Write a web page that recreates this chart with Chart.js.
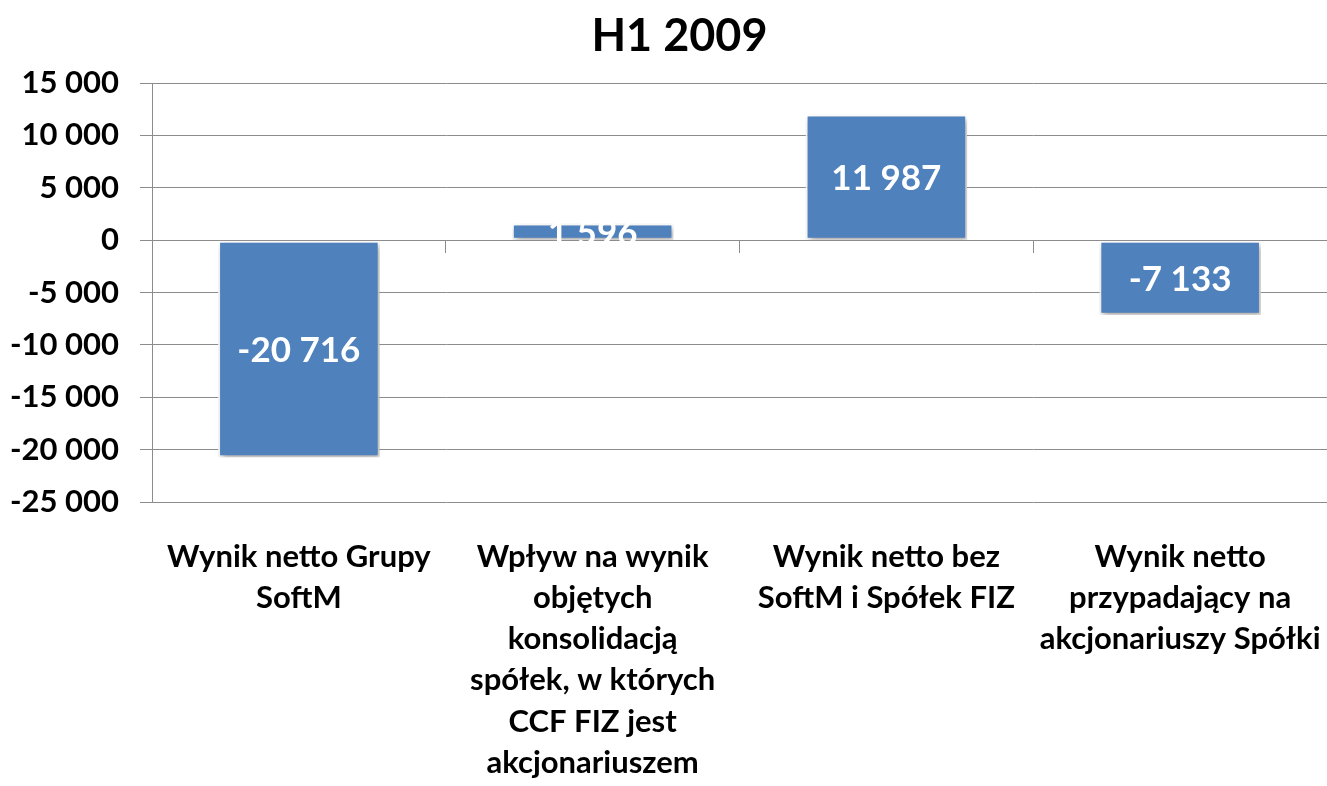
<!DOCTYPE html>
<html>
<head>
<meta charset="utf-8">
<script src="https://cdn.jsdelivr.net/npm/chart.js@4/dist/chart.umd.min.js"></script>
<style>
  html, body { margin: 0; padding: 0; background: #fff; }
  #wrap { width: 1327px; height: 786px; position: relative; }
</style>
</head>
<body>
<div id="wrap"><canvas id="c"></canvas></div>
<script>
const chartTitle = 'H1 2009';
const categories = [
  ['Wynik netto Grupy', 'SoftM'],
  ['Wpływ na wynik', 'objętych', 'konsolidacją', 'spółek, w których', 'CCF FIZ jest', 'akcjonariuszem'],
  ['Wynik netto bez', 'SoftM i Spółek FIZ'],
  ['Wynik netto', 'przypadający na', 'akcjonariuszy Spółki']
];
const values = [-20716, 1596, 11987, -7133];
const yMin = -25000;
const yMax = 15000;
const yStep = 5000;

const FONT = 'Lato, "Open Sans", sans-serif';

function fmt(v) {
  const s = Math.abs(Math.round(v)).toString().replace(/\B(?=(\d{3})+(?!\d))/g, ' ');
  return (v < 0 ? '-' : '') + s;
}

const barDecor = {
  id: 'barDecor',
  beforeDatasetsDraw(chart) {
    const ctx = chart.ctx;
    ctx.save();
    ctx.shadowColor = 'rgba(0,0,0,0.35)';
    ctx.shadowBlur = 6;
    ctx.shadowOffsetX = 2;
    ctx.shadowOffsetY = 3;
  },
  afterDatasetsDraw(chart) {
    const ctx = chart.ctx;
    ctx.restore();
    ctx.save();
    ctx.fillStyle = '#ffffff';
    ctx.font = 'bold 35px ' + FONT;
    ctx.textAlign = 'center';
    ctx.textBaseline = 'middle';
    const meta = chart.getDatasetMeta(0);
    meta.data.forEach((bar, i) => {
      const p = bar.getProps(['x', 'y', 'base'], true);
      ctx.fillText(fmt(chart.data.datasets[0].data[i]), p.x, (p.y + p.base) / 2 + 2);
    });
    ctx.restore();
  }
};

// Title drawn slightly right of canvas centre, as in the original slide
const titleDraw = {
  id: 'titleDraw',
  afterDraw(chart) {
    const ctx = chart.ctx;
    ctx.save();
    ctx.fillStyle = '#000';
    ctx.font = 'bold 45px ' + FONT;
    ctx.textAlign = 'center';
    ctx.textBaseline = 'middle';
    ctx.fillText(chartTitle, chart.width / 2 + 16, 36);
    ctx.restore();
  }
};

function noSidePad(s) { s.paddingLeft = 0; s.paddingRight = 0; }

new Chart(document.getElementById('c'), {
  type: 'bar',
  data: {
    labels: categories,
    datasets: [{
      data: values,
      backgroundColor: '#4F81BD',
      borderColor: '#ffffff',
      borderWidth: 2,
      borderSkipped: false,
      barPercentage: 0.55,
      categoryPercentage: 1.0
    }]
  },
  options: {
    responsive: true,
    maintainAspectRatio: false,
    animation: false,
    layout: { padding: { left: 0, right: 0, top: 83, bottom: 0 } },
    plugins: {
      legend: { display: false },
      tooltip: { enabled: false },
      title: { display: false }
    },
    scales: {
      x: {
        position: 'bottom',
        grid: { display: false, drawTicks: false },
        border: { display: false },
        ticks: {
          color: '#000',
          padding: 34,
          maxRotation: 0,
          autoSkip: false,
          font: { family: FONT, size: 31, weight: 'bold', lineHeight: 1.33 }
        },
        afterFit(s) { s.height = 284; noSidePad(s); }
      },
      x2: {
        type: 'category',
        labels: categories.map((_, i) => String(i)),
        position: { y: 0 },
        offset: true,
        grid: { display: true, offset: true, drawOnChartArea: false, drawTicks: true, tickLength: 12, color: '#8c8c8c', lineWidth: 1 },
        border: { display: true, color: '#8c8c8c', width: 1 },
        ticks: { display: false },
        afterFit(s) { noSidePad(s); }
      },
      y: {
        min: yMin,
        max: yMax,
        grid: { color: '#8c8c8c', lineWidth: 1, tickLength: 12, drawTicks: true },
        border: { display: true, color: '#8c8c8c', width: 1 },
        ticks: {
          stepSize: yStep,
          color: '#000',
          padding: 21,
          font: { family: FONT, size: 31, weight: 'bold' },
          callback: (v) => fmt(v)
        },
        afterFit(s) { s.width = 152; }
      }
    }
  },
  plugins: [barDecor, titleDraw]
});
</script>
</body>
</html>
